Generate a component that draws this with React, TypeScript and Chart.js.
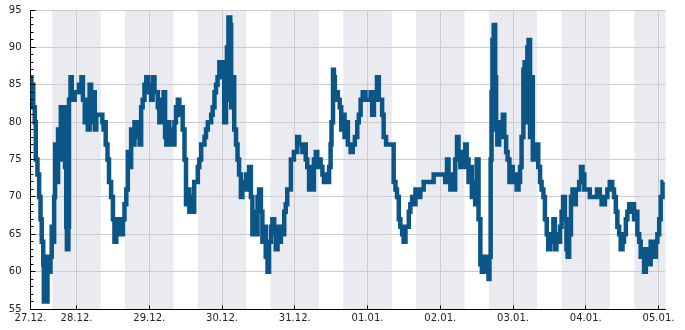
import { useEffect, useRef } from "react";
import { Chart, registerables } from "chart.js";

Chart.register(...registerables);

// Time axis is in hours since 27.12. 00:00
const START_HOUR = 8.82;
const END_HOUR = 218.3;

const dayLabels = ["27.12.", "28.12.", "29.12.", "30.12.", "31.12.", "01.01.", "02.01.", "03.01.", "04.01.", "05.01."];
const dayTickHours = [24, 48, 72, 96, 120, 144, 168, 192, 216];

// night shading: 16:00 to 08:00
const nightStartHours = [16, 40, 64, 88, 112, 136, 160, 184, 208];
const NIGHT_LENGTH = 16;

// hours since start of record
const sampleHours = [
  0, 0.3, 0.6, 0.9, 1.4, 1.75, 2.3, 2.85, 3.3, 3.7, 4.2, 4.4, 5.0, 5.3, 5.6, 6.1, 6.6, 7.0, 7.5, 7.8,
  8.1, 8.6, 9.1, 9.6, 10.0, 10.5, 11.0, 11.4, 11.8, 12.0, 12.5, 12.7, 13.2, 13.6, 14.0, 14.6, 15.4, 16.0, 16.8, 17.3,
  17.9, 18.4, 18.9, 19.5, 20.0, 20.6, 21.2, 21.7, 22.8, 23.7, 24.1, 24.4, 24.8, 25.4, 25.9, 26.6, 27.2, 27.7, 28.3, 28.8,
  29.4, 29.9, 30.5, 31.0, 31.6, 32.1, 32.7, 33.2, 33.8, 34.3, 34.9, 35.4, 36.0, 36.5, 37.0, 37.6, 38.2, 38.7, 39.2, 39.8,
  40.3, 40.9, 41.4, 42.0, 42.5, 43.1, 43.6, 43.9, 44.4, 44.8, 45.3, 45.8, 46.4, 46.9, 47.5, 48.0, 48.6, 49.1, 49.7, 50.2,
  50.8, 51.3, 51.8, 52.4, 52.9, 53.5, 54.0, 54.6, 55.2, 55.7, 56.3, 56.8, 57.4, 57.9, 58.5, 59.0, 59.6, 60.1, 60.7, 61.2,
  61.7, 62.3, 62.8, 63.4, 63.9, 64.5, 64.8, 65.3, 65.9, 66.2, 66.6, 67.2, 67.8, 68.3, 68.8, 69.4, 69.9, 70.5, 71.1, 71.6,
  72.1, 72.7, 73.2, 73.8, 74.3, 74.9, 75.4, 76.0, 76.5, 77.1, 77.6, 78.2, 78.7, 79.3, 79.8, 80.4, 80.9, 81.5, 82.0, 82.6,
  83.1, 83.7, 84.2, 84.7, 85.3, 85.9, 86.4, 86.9, 87.5, 88.0, 88.6, 89.1, 89.7, 90.2, 90.8, 91.3, 91.9, 92.4, 93.0, 93.5,
  94.1, 94.6, 95.2, 95.7, 96.3, 96.8, 97.4, 97.9, 98.5, 99.0, 99.3, 99.8, 100.1, 100.4, 100.9, 101.4, 102.0, 102.5, 103.1, 103.6,
  104.1, 104.7, 105.6, 106.3, 107.0, 107.8, 108.3, 108.9, 109.6, 110.5, 111.1, 112.2, 112.7, 113.3, 113.8, 114.3, 114.9, 115.5, 116.0, 116.5,
  117.3, 118.2, 119.3, 119.8, 120.4, 120.9, 121.5, 122.0, 122.6, 123.1, 123.7, 124.2, 124.8, 125.3, 125.9, 126.4, 127.0, 127.5, 128.1, 128.6,
  129.2, 129.7, 130.3, 131.3, 131.9, 133.0, 134.1, 135.2, 136.3, 136.8, 137.4, 137.9, 138.5, 139.0, 139.6, 140.1, 140.7, 141.2, 141.8, 142.3,
  142.9, 143.4, 143.9, 144.5, 145.1, 145.6, 146.2, 146.7, 147.2, 147.8, 148.4, 148.9, 149.4, 150.0, 150.5, 151.1, 151.4, 151.8, 152.1, 152.4,
  152.8, 153.3, 153.6, 154.0, 154.6, 155.1, 155.8, 156.3, 156.9, 157.4, 158.0, 158.6, 159.1, 159.9, 160.4, 161.0, 161.5, 162.0, 162.6, 163.0,
  163.4, 163.9, 164.3, 164.8, 165.2, 165.7, 166.2, 167.0, 167.5, 168.1, 168.6, 169.2, 169.7, 170.3, 170.8, 171.4, 171.9, 172.5, 173.0, 173.5,
  174.1, 174.7, 175.2, 175.7, 176.3, 176.8, 177.2, 177.7, 178.3, 178.8, 179.4, 179.9, 180.5, 181.0, 181.6, 182.1, 182.7, 183.4, 184.5, 185.3,
  186.2, 186.9, 187.8, 188.4, 189.5, 190.3, 191.1, 191.9, 192.5, 193.1, 193.6, 194.2, 194.7, 195.3, 195.8, 196.4, 196.9, 197.5, 198.0, 198.6,
  199.1, 199.7, 200.2, 200.8, 201.3, 201.9, 202.4, 203.0, 203.5, 204.1, 204.6, 205.1, 205.7, 206.3, 206.8, 207.4, 207.9, 208.5, 208.8,
];

const humidity = [
  86, 83, 85, 82, 80, 75, 73, 70, 67, 64, 61, 56, 58, 56, 62, 60, 62, 66, 64, 70,
  77, 72, 79, 75, 82, 75, 82, 74, 66, 63, 66, 83, 86, 84, 83, 84, 84, 85, 86, 83,
  80, 83, 79, 85, 80, 84, 79, 81, 81, 80, 79, 80, 77, 75, 72, 70, 67, 64, 67, 65,
  67, 65, 67, 69, 71, 76, 74, 79, 77, 80, 78, 80, 77, 82, 83, 85, 86, 84, 85, 83,
  86, 84, 84, 82, 80, 83, 80, 84, 78, 77, 80, 77, 79, 77, 80, 82, 83, 81, 82, 79,
  75, 69, 71, 68, 70, 68, 72, 72, 74, 75, 77, 77, 78, 79, 80, 80, 81, 82, 84, 85,
  86, 88, 86, 88, 80, 83, 90, 94, 93, 82, 86, 79, 77, 75, 73, 70, 72, 71, 73, 71,
  74, 70, 65, 68, 65, 70, 71, 68, 64, 66, 62, 60, 64, 66, 67, 65, 63, 66, 64, 66,
  65, 68, 69, 71, 71, 75, 75, 76, 76, 78, 77, 77, 76, 77, 75, 74, 71, 74, 71, 75,
  76, 74, 75, 74, 73, 72, 73, 72, 74, 77, 80, 87, 86, 83, 84, 83, 82, 79, 81, 78,
  80, 77, 76, 77, 78, 80, 81, 83, 84, 83, 83, 84, 81, 83, 84, 86, 83, 83, 81, 78,
  77, 77, 77, 72, 71, 70, 67, 66, 65, 64, 66, 66, 68, 69, 70, 69, 71, 70, 70, 71,
  71, 72, 72, 72, 72, 73, 73, 73, 73, 72, 75, 72, 71, 73, 71, 75, 78, 76, 74, 76,
  74, 77, 75, 72, 74, 70, 72, 69, 75, 67, 61, 60, 62, 60, 62, 59, 62, 75, 84, 91,
  93, 86, 79, 77, 80, 78, 81, 78, 76, 75, 72, 74, 72, 73, 71, 72, 74, 78, 87, 88,
  80, 90, 91, 78, 86, 75, 77, 77, 74, 72, 71, 70, 67, 65, 63, 65, 64, 67, 63, 65,
  64, 66, 68, 70, 67, 63, 62, 65, 70, 71, 69, 71, 71, 72, 74, 73, 71, 71, 70, 70,
  70, 71, 70, 69, 70, 71, 72, 71, 70, 68, 66, 65, 63, 64, 65, 67, 68, 69, 68, 69,
  67, 68, 65, 64, 62, 63, 60, 62, 63, 61, 64, 63, 62, 64, 65, 67, 70, 72, 72,
];

const Y_MIN = 55;
const Y_MAX = 95;

const LINE_COLOR = "#0b5587";
const GRID_COLOR = "#cccccc";
const BAND_COLOR = "#eaebf1";
const TEXT_COLOR = "#222222";

const decorPlugin = {
  id: "decor",
  beforeDraw(chart: any) {
    const { ctx, chartArea, scales } = chart;
    const x = scales.x;
    ctx.save();
    ctx.beginPath();
    ctx.rect(chartArea.left, chartArea.top, chartArea.right - chartArea.left, chartArea.bottom - chartArea.top);
    ctx.clip();
    ctx.fillStyle = BAND_COLOR;
    for (const s of nightStartHours) {
      const x0 = x.getPixelForValue(s);
      const x1 = x.getPixelForValue(s + NIGHT_LENGTH);
      ctx.fillRect(x0, chartArea.top, x1 - x0, chartArea.bottom - chartArea.top);
    }
    ctx.restore();
  },
  afterDraw(chart: any) {
    const { ctx, chartArea, scales } = chart;
    const x = scales.x;
    const y = scales.y;
    ctx.save();
    ctx.strokeStyle = "#000";
    ctx.lineWidth = 1;
    ctx.beginPath();
    const left = Math.round(chartArea.left - 0.5) + 0.5;
    for (let v = Y_MIN + 1; v <= Y_MAX; v++) {
      const len = v % 5 === 0 ? 5 : 3;
      const py = Math.round(y.getPixelForValue(v) - 0.5) + 0.5;
      ctx.moveTo(left, py);
      ctx.lineTo(left + len, py);
    }
    const bottom = Math.round(chartArea.bottom - 0.5) + 0.5;
    for (const h of dayTickHours) {
      const px = Math.round(x.getPixelForValue(h) - 0.5) + 0.5;
      ctx.moveTo(px, bottom);
      ctx.lineTo(px, bottom - 4);
    }
    ctx.stroke();
    ctx.restore();
  },
};

export default function App() {
  const canvasRef = useRef<HTMLCanvasElement | null>(null);

  useEffect(() => {
    document.body.style.margin = "0";
    const canvas = canvasRef.current;
    if (!canvas) return;
    const points = sampleHours.map((h, i) => ({ x: START_HOUR + h, y: humidity[i] }));
    const tickValues = [START_HOUR, ...dayTickHours];
    const chart = new Chart(canvas, {
      type: "line",
      data: {
        datasets: [
          {
            data: points,
            borderColor: LINE_COLOR,
            borderWidth: 4.5,
            stepped: true,
            pointRadius: 0,
            fill: false,
          },
        ],
      },
      options: {
        animation: false,
        responsive: false,
        maintainAspectRatio: false,
        layout: { padding: { top: 10, right: 19.5, bottom: 0, left: 0 } },
        plugins: { legend: { display: false }, tooltip: { enabled: false } },
        scales: {
          x: {
            type: "linear",
            min: START_HOUR,
            max: END_HOUR,
            afterBuildTicks: (s: any) => {
              s.ticks = tickValues.map((v) => ({ value: v }));
            },
            afterFit: (s: any) => {
              s.height = 21;
              s.paddingTop = 0;
              s.paddingBottom = 0;
            },
            ticks: {
              autoSkip: false,
              maxRotation: 0,
              minRotation: 0,
              padding: 3,
              color: TEXT_COLOR,
              font: { family: "DejaVu Sans", size: 10 },
              callback: (_v: any, i: number) => dayLabels[i],
            },
            grid: {
              color: (c: any) => (c.index === 0 ? "rgba(0,0,0,0)" : GRID_COLOR),
              drawTicks: false,
              lineWidth: 1,
            },
            border: { display: true, color: "#000", width: 1 },
          },
          y: {
            type: "linear",
            min: Y_MIN,
            max: Y_MAX,
            afterFit: (s: any) => {
              s.width = 30.5;
              s.paddingTop = 5;
              s.paddingBottom = 5;
            },
            ticks: {
              stepSize: 5,
              padding: 9,
              color: TEXT_COLOR,
              font: { family: "DejaVu Sans", size: 10 },
            },
            grid: {
              color: (c: any) => (c.tick && c.tick.value === Y_MIN ? "rgba(0,0,0,0)" : GRID_COLOR),
              drawTicks: false,
              lineWidth: 1,
            },
            border: { display: true, color: "#000", width: 1 },
          },
        },
      },
      plugins: [decorPlugin],
    } as any);
    return () => chart.destroy();
  }, []);

  return <canvas ref={canvasRef} width={685} height={330} style={{ display: "block" }} />;
}
